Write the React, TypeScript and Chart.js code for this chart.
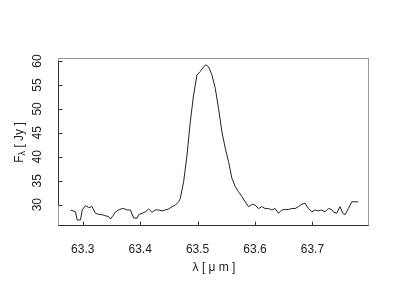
import React, { useEffect, useRef } from "react";
import { Chart, registerables } from "chart.js";

Chart.register(...registerables);

const wavelength = [
  63.2786, 63.2873, 63.2903, 63.296, 63.299, 63.3047, 63.3104, 63.3163, 63.3191, 63.3221,
  63.3278, 63.3337, 63.3395, 63.3452, 63.3482, 63.3539, 63.3569, 63.3626, 63.3685, 63.3713,
  63.3772, 63.383, 63.3887, 63.3946, 63.3974, 63.4033, 63.409, 63.4148, 63.4207, 63.4264,
  63.4322, 63.4381, 63.4438, 63.4496, 63.4555, 63.4612, 63.467, 63.4699, 63.4757, 63.4816,
  63.4873, 63.493, 63.499, 63.5047, 63.5104, 63.5146, 63.5191, 63.525, 63.5308, 63.5365,
  63.5424, 63.5482, 63.5539, 63.5598, 63.5656, 63.5713, 63.5772, 63.583, 63.5887, 63.5957,
  63.6003, 63.6061, 63.612, 63.6177, 63.6235, 63.6294, 63.6351, 63.6409, 63.6468, 63.6525,
  63.6583, 63.6642, 63.6699, 63.6757, 63.6816, 63.6873, 63.693, 63.699, 63.7047, 63.7104,
  63.7163, 63.7221, 63.7278, 63.7337, 63.7365, 63.7424, 63.7481, 63.7529, 63.7569, 63.7626,
  63.7685, 63.7743, 63.78,
];

const flux = [
  28.9, 28.5, 26.8, 26.8, 28.9, 29.8, 29.4, 29.6, 28.9, 28.2,
  28.0, 27.9, 27.7, 27.5, 27.0, 27.9, 28.5, 28.9, 29.2, 29.2,
  28.9, 28.9, 27.2, 27.2, 27.9, 28.2, 28.5, 29.1, 28.4, 28.9,
  28.9, 28.7, 28.9, 29.1, 29.6, 29.9, 30.6, 31.3, 34.8, 40.4,
  47.3, 52.9, 57.1, 57.8, 58.8, 59.2, 58.8, 57.1, 54.3, 50.1,
  45.2, 41.8, 39.0, 35.5, 33.8, 32.7, 31.7, 30.6, 29.6, 30.1,
  29.9, 29.2, 29.6, 29.2, 29.2, 28.9, 29.2, 28.2, 28.9, 29.0,
  29.0, 29.2, 29.2, 29.6, 30.1, 30.3, 29.2, 28.5, 28.9, 28.7,
  28.9, 28.5, 29.2, 29.0, 28.5, 28.2, 29.6, 28.2, 27.9, 29.2,
  30.6, 30.6, 30.6,
];

const xTicks = [63.3, 63.4, 63.5, 63.6, 63.7];
const yTicks = [30, 35, 40, 45, 50, 55, 60];

const X_MIN = 63.2586;
const X_MAX = 63.7986;
const Y_MIN = 25.55;
const Y_MAX = 60.42;

const FONT = "'Liberation Sans', Arial, Helvetica, sans-serif";
const TEXT = "#222";

const framePlugin = {
  id: "frame",
  afterDatasetsDraw(chart: any) {
    const { ctx, chartArea } = chart;
    const xs = chart.scales.x;
    const ys = chart.scales.y;
    const l = Math.round(chartArea.left) - 0.5;
    const r = Math.round(chartArea.right) - 0.5;
    const t = Math.round(chartArea.top) - 0.5;
    const b = Math.round(chartArea.bottom) - 0.5;
    ctx.save();
    ctx.lineWidth = 1;
    ctx.strokeStyle = "#999";
    ctx.strokeRect(l, t, r - l, b - t);
    ctx.strokeStyle = "#333";
    ctx.beginPath();
    ctx.moveTo(l, Math.round(ys.getPixelForValue(yTicks[0])));
    ctx.lineTo(l, Math.round(ys.getPixelForValue(yTicks[yTicks.length - 1])));
    ctx.stroke();
    ctx.beginPath();
    ctx.moveTo(l, b);
    ctx.lineTo(r, b);
    ctx.stroke();
    ctx.beginPath();
    for (const v of xTicks) {
      const px = Math.round(xs.getPixelForValue(v)) + 0.5;
      ctx.moveTo(px, b);
      ctx.lineTo(px, b - 4);
    }
    for (const v of yTicks) {
      const py = Math.round(ys.getPixelForValue(v)) + 0.5;
      ctx.moveTo(l, py);
      ctx.lineTo(l + 4, py);
    }
    ctx.stroke();
    ctx.restore();
  },
};

const yTitlePlugin = {
  id: "yTitle",
  afterDraw(chart: any) {
    const { ctx, chartArea } = chart;
    const cy = (chartArea.top + chartArea.bottom) / 2;
    ctx.save();
    ctx.translate(20, cy);
    ctx.rotate(-Math.PI / 2);
    ctx.fillStyle = TEXT;
    ctx.textBaseline = "middle";
    ctx.textAlign = "left";
    const main = `12px ${FONT}`;
    const sub = `9px ${FONT}`;
    ctx.font = main;
    const wF = ctx.measureText("F").width;
    const wR = ctx.measureText(" [ Jy ]").width;
    ctx.font = sub;
    const wL = ctx.measureText("λ").width;
    const total = wF + wL + wR;
    let x = -total / 2;
    ctx.font = main;
    ctx.fillText("F", x, 0);
    x += wF;
    ctx.font = sub;
    ctx.fillText("λ", x, 3);
    x += wL;
    ctx.font = main;
    ctx.fillText(" [ Jy ]", x, 0);
    ctx.restore();
  },
};

export default function App() {
  const ref = useRef<HTMLCanvasElement | null>(null);

  useEffect(() => {
    if (!ref.current) return;
    const chart = new Chart(ref.current, {
      type: "line",
      data: {
        datasets: [
          {
            data: wavelength.map((w, i) => ({ x: w, y: flux[i] })),
            borderColor: "#222",
            borderWidth: 1,
            pointRadius: 0,
            tension: 0,
            fill: false,
          },
        ],
      },
      options: {
        animation: false,
        responsive: false,
        maintainAspectRatio: false,
        layout: { padding: { top: 59, right: 31, left: 0, bottom: 0 } },
        plugins: { legend: { display: false }, tooltip: { enabled: false } },
        scales: {
          x: {
            type: "linear",
            min: X_MIN,
            max: X_MAX,
            afterBuildTicks: (s: any) => {
              s.ticks = xTicks.map((v) => ({ value: v }));
            },
            afterFit: (s: any) => {
              s.height = 74;
            },
            ticks: {
              autoSkip: false,
              minRotation: 0,
              maxRotation: 0,
              padding: 16,
              color: TEXT,
              font: { family: FONT, size: 12 },
              callback: (v: any) => Number(v).toFixed(1),
            },
            grid: { display: false, drawTicks: false },
            border: { display: false },
            title: {
              display: true,
              text: "λ [ μ m ]",
              color: TEXT,
              font: { family: FONT, size: 12 },
              padding: { top: 0, bottom: 25 },
            },
          },
          y: {
            type: "linear",
            min: Y_MIN,
            max: Y_MAX,
            afterBuildTicks: (s: any) => {
              s.ticks = yTicks.map((v) => ({ value: v }));
            },
            afterFit: (s: any) => {
              s.width = 59;
            },
            ticks: {
              autoSkip: false,
              minRotation: 90,
              maxRotation: 90,
              crossAlign: "center",
              padding: 15,
              color: TEXT,
              font: { family: FONT, size: 12 },
              callback: (v: any) => String(v),
            },
            grid: { display: false, drawTicks: false },
            border: { display: false },
          },
        },
      },
      plugins: [framePlugin, yTitlePlugin],
    } as any);
    return () => chart.destroy();
  }, []);

  return (
    <div style={{ position: "absolute", left: 0, top: 0, width: 400, height: 300, background: "#fff" }}>
      <canvas ref={ref} width={400} height={300} style={{ display: "block" }} />
    </div>
  );
}
